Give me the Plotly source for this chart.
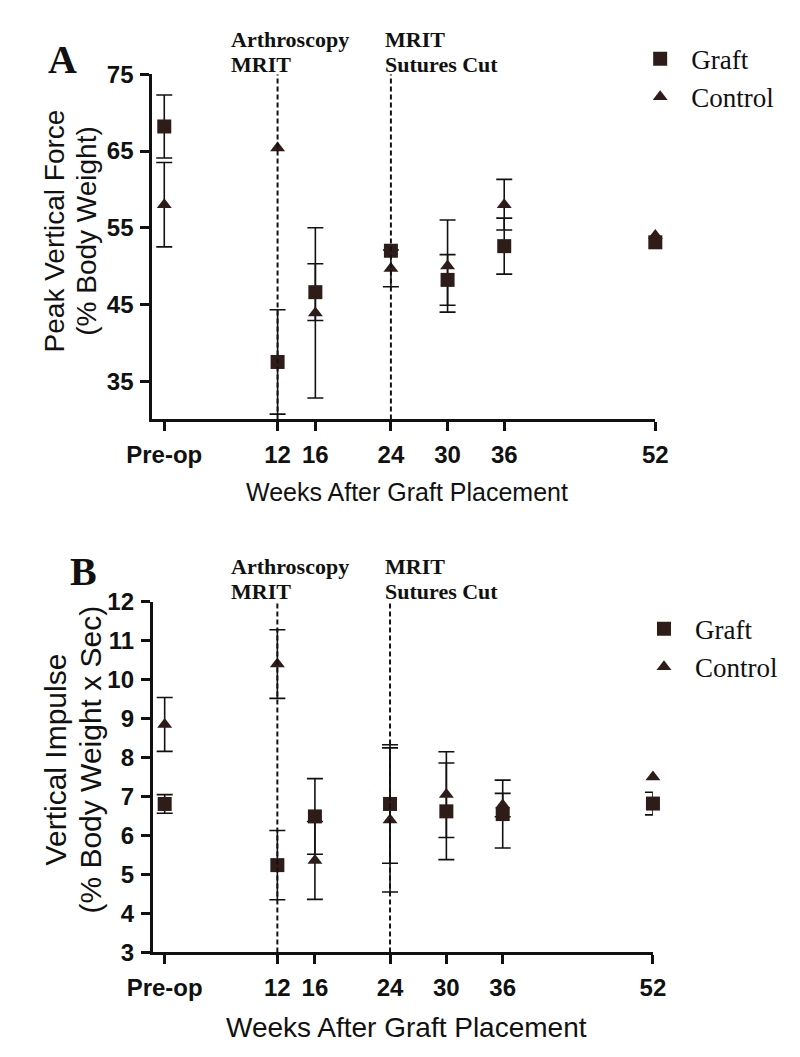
import plotly.graph_objects as go

# ---------------- data ----------------
weeks = [0, 12, 16, 24, 30, 36, 52]
week_labels = ["Pre-op", "12", "16", "24", "30", "36", "52"]
event_weeks = [12, 24]
event_text = [["Arthroscopy", "MRIT"], ["MRIT", "Sutures Cut"]]

# Panel A: Peak Vertical Force (% Body Weight)
force_graft = [68.2, 37.5, 46.6, 52.0, 48.2, 52.6, 53.1]
force_graft_err = [4.1, 6.8, 3.7, None, 3.3, 3.65, None]
force_control = [58.0, 65.4, 43.9, 49.7, 50.0, 58.0, 54.0]
force_control_err = [5.5, None, 11.1, 2.4, 6.0, 3.3, None]
force_ticks = [35, 45, 55, 65, 75]
force_range = [30, 75]

# Panel B: Vertical Impulse (% Body Weight x Sec)
impulse_graft = [6.81, 5.24, 6.49, 6.81, 6.62, 6.55, 6.82]
impulse_graft_err = [0.24, 0.89, 0.97, 1.52, 1.24, 0.87, 0.29]
impulse_control = [8.85, 10.4, 5.36, 6.40, 7.05, 6.78, 7.5]
impulse_control_err = [0.69, 0.88, 1.0, 1.85, 1.1, 0.3, None]
impulse_ticks = [3, 4, 5, 6, 7, 8, 9, 10, 11, 12]
impulse_range = [3, 12]

x_range = [-1.26, 52]

# ---------------- style ----------------
OFF = 8                      # default <body> margin of the written page
W, H = 800 - OFF, 1057 - OFF
MARK = "#2e1c18"
INK = "#111111"
SANS = "Liberation Sans, Arial, sans-serif"
SERIF = "Liberation Serif, Times New Roman, serif"


def px(p):
    return (p - OFF) / W


def py(p):
    return 1 - (p - OFF) / H


fig = go.Figure()


def add_series(xa, ya, vals, errs, name, symbol, size, legend):
    ex = [w for w, e in zip(weeks, errs) if e is not None]
    ey = [v for v, e in zip(vals, errs) if e is not None]
    ee = [e for e in errs if e is not None]
    fig.add_trace(go.Scatter(
        x=ex, y=ey, mode="markers", xaxis=xa, yaxis=ya,
        marker=dict(size=4, opacity=0),
        error_y=dict(type="data", array=ee, visible=True, color=INK,
                     thickness=1.6, width=8),
        showlegend=False, hoverinfo="skip", cliponaxis=False))
    return dict(x=weeks, y=vals, name=name, symbol=symbol, size=size,
                xa=xa, ya=ya, legend=legend)


pending = [
    add_series("x", "y", force_graft, force_graft_err, "Graft", "square", 14, "legend"),
    add_series("x", "y", force_control, force_control_err, "Control", "triangle-up", 13, "legend"),
    add_series("x2", "y2", impulse_graft, impulse_graft_err, "Graft", "square", 14, "legend2"),
    add_series("x2", "y2", impulse_control, impulse_control_err, "Control", "triangle-up", 13, "legend2"),
]

for p in pending:
    fig.add_trace(go.Scatter(
        x=p["x"], y=p["y"], mode="markers", name=p["name"],
        xaxis=p["xa"], yaxis=p["ya"], legend=p["legend"],
        showlegend=True, cliponaxis=False,
        marker=dict(symbol=p["symbol"], size=p["size"], color=MARK,
                    line=dict(width=0))))

axis_common = dict(showline=True, linewidth=3, linecolor=INK, ticks="outside",
                   ticklen=9, tickwidth=3, tickcolor=INK, showgrid=False,
                   zeroline=False,
                   tickfont=dict(family=SANS, size=24, color=INK, weight="bold"))

legend_common = dict(xanchor="left", yanchor="top",
                     font=dict(family=SERIF, size=27, color=INK),
                     bgcolor="rgba(0,0,0,0)", itemwidth=52)

fig.update_layout(
    width=W, height=H, autosize=False,
    margin=dict(l=0, r=0, t=0, b=0),
    paper_bgcolor="white", plot_bgcolor="white",
    xaxis=dict(domain=[px(132.5), px(661.5)], range=x_range, anchor="y",
               tickvals=weeks, ticktext=week_labels, ticklabelstandoff=3,
               **axis_common),
    yaxis=dict(domain=[py(416), py(61.7)], range=force_range, anchor="x",
               tickvals=force_ticks, ticklabelstandoff=2, **axis_common),
    xaxis2=dict(domain=[px(133), px(659)], range=x_range, anchor="y2",
                tickvals=weeks, ticktext=week_labels, ticklabelstandoff=3,
                **axis_common),
    yaxis2=dict(domain=[py(963), py(603)], range=impulse_range, anchor="x2",
                tickvals=impulse_ticks, ticklabelstandoff=2, **axis_common),
    legend=dict(x=px(634), y=py(21), **legend_common),
    legend2=dict(x=px(638), y=py(606), **legend_common),
)

# vertical dashed event lines
for xa, ya, yr in (("x", "y", force_range), ("x2", "y2", impulse_range)):
    for wk in event_weeks:
        fig.add_shape(type="line", xref=xa, yref=ya, x0=wk, x1=wk,
                      y0=yr[0], y1=yr[1],
                      line=dict(color=INK, width=2, dash="5px,3px"))

annos = []
# event labels
for top in (0, 541):
    for xpix, lines in zip((213, 375), event_text):
        for k, t in enumerate(lines):
            annos.append(dict(x=px(xpix), y=py(26 + 26 * k + top), xref="paper", yref="paper",
                              text=t, showarrow=False, xanchor="left", yanchor="middle",
                              font=dict(family=SERIF, size=22, color=INK, weight="bold")))
# panel letters
annos.append(dict(x=px(38), y=py(46), xref="paper", yref="paper", text="A", showarrow=False,
                  xanchor="center", yanchor="middle",
                  font=dict(family=SERIF, size=40, color=INK, weight="bold")))
annos.append(dict(x=px(60), y=py(572), xref="paper", yref="paper", text="B", showarrow=False,
                  xanchor="center", yanchor="middle",
                  font=dict(family=SERIF, size=40, color=INK, weight="bold")))
# y-axis titles
for xpix, ypix, t, s in ((30, 222, "Peak Vertical Force", 28), (63, 222, "(% Body Weight)", 28),
                         (31, 765, "Vertical Impulse", 30), (67, 765, "(% Body Weight x Sec)", 30)):
    annos.append(dict(x=px(xpix), y=py(ypix), xref="paper", yref="paper", text=t,
                      showarrow=False, textangle=-90, xanchor="center", yanchor="middle",
                      font=dict(family=SANS, size=s, color=INK)))
# x-axis titles
for ypix, s in ((490, 25), (1040, 28)):
    annos.append(dict(x=px(400), y=py(ypix), xref="paper", yref="paper",
                      text="Weeks After Graft Placement", showarrow=False,
                      xanchor="center", yanchor="middle",
                      font=dict(family=SANS, size=s, color=INK)))
fig.update_layout(annotations=annos)

fig.write_html("out.html")
